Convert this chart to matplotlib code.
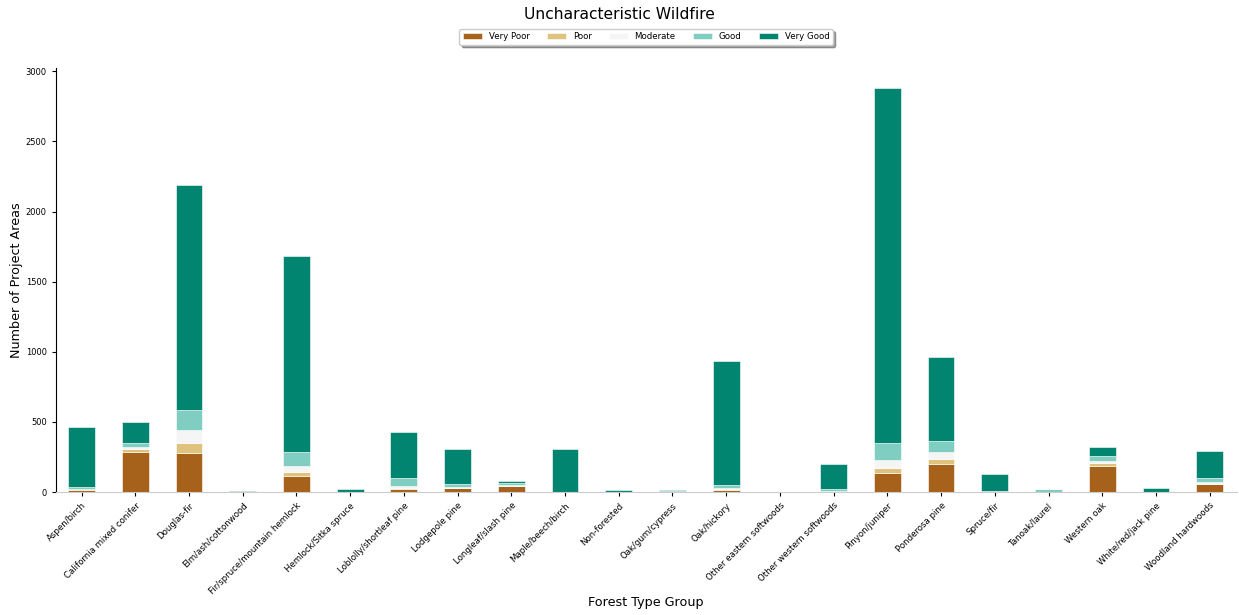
import matplotlib
matplotlib.use("Agg")
import matplotlib.pyplot as plt
import numpy as np

categories = ["Aspen/birch", "California mixed conifer", "Douglas-fir", "Elm/ash/cottonwood",
              "Fir/spruce/mountain hemlock", "Hemlock/Sitka spruce", "Loblolly/shortleaf pine",
              "Lodgepole pine", "Longleaf/slash pine", "Maple/beech/birch", "Non-forested",
              "Oak/gum/cypress", "Oak/hickory", "Other eastern softwoods", "Other western softwoods",
              "Pinyon/juniper", "Ponderosa pine", "Spruce/fir", "Tanoak/laurel", "Western oak",
              "White/red/jack pine", "Woodland hardwoods"]

very_poor = [12, 288, 281, 0, 114, 0, 18, 25, 40, 2, 0, 2, 12, 0, 3, 138, 198, 4, 3, 188, 0, 55]
poor      = [6, 17, 67, 0, 31, 0, 8, 5, 4, 0, 0, 0, 8, 0, 2, 36, 38, 0, 0, 19, 0, 4]
moderate  = [4, 14, 95, 0, 41, 0, 17, 5, 4, 0, 0, 0, 8, 0, 3, 54, 50, 0, 0, 17, 0, 12]
good      = [12, 29, 142, 1, 102, 2, 55, 20, 18, 0, 2, 5, 20, 0, 14, 120, 76, 0, 20, 35, 3, 31]
very_good = [430, 149, 1607, 4, 1398, 18, 330, 250, 10, 308, 10, 10, 887, 0, 176, 2530, 604, 124, 1, 65, 28, 191]

series = [("Very Poor", very_poor, "#a6611a"),
          ("Poor", poor, "#dfc27d"),
          ("Moderate", moderate, "#f5f5f5"),
          ("Good", good, "#80cdc1"),
          ("Very Good", very_good, "#018571")]

fig = plt.figure(figsize=(12.39, 6.15), dpi=100)
ax = fig.add_axes([0.045, 0.2, 0.953, 0.689])

x = np.arange(len(categories))
bottom = np.zeros(len(categories))
for name, vals, col in series:
    vals = np.array(vals, dtype=float)
    ax.bar(x, vals, 0.5, bottom=bottom, color=col, label=name,
           edgecolor="white", linewidth=0.4)
    bottom += vals

ax.set_xlim(-0.48, len(categories) - 0.5)
ax.set_ylim(0, 3022)
ax.set_xticks(x)
ax.set_xticklabels(categories, rotation=45, ha="right", fontsize=6.2, rotation_mode="anchor")
ax.tick_params(axis="y", labelsize=6, length=3)
ax.tick_params(axis="x", length=3)
ax.set_yticks([0, 500, 1000, 1500, 2000, 2500, 3000])
ax.spines["top"].set_visible(False)
ax.spines["right"].set_visible(False)
ax.spines["bottom"].set_color("#cccccc")
ax.set_xlabel("Forest Type Group", fontsize=9.2)
ax.set_ylabel("Number of Project Areas", fontsize=9.2, labelpad=2)
ax.xaxis.set_label_coords(0.5, -0.245)
fig.suptitle("Uncharacteristic Wildfire", fontsize=11.2, y=0.988)
leg = ax.legend(ncol=5, loc="lower center", bbox_to_anchor=(0.5, 1.045), fontsize=6.2,
                frameon=True, shadow=True, fancybox=True, handlelength=2.2, columnspacing=2.0,
                handletextpad=0.8, borderpad=0.4)
fig.savefig("out.png", dpi=100)
